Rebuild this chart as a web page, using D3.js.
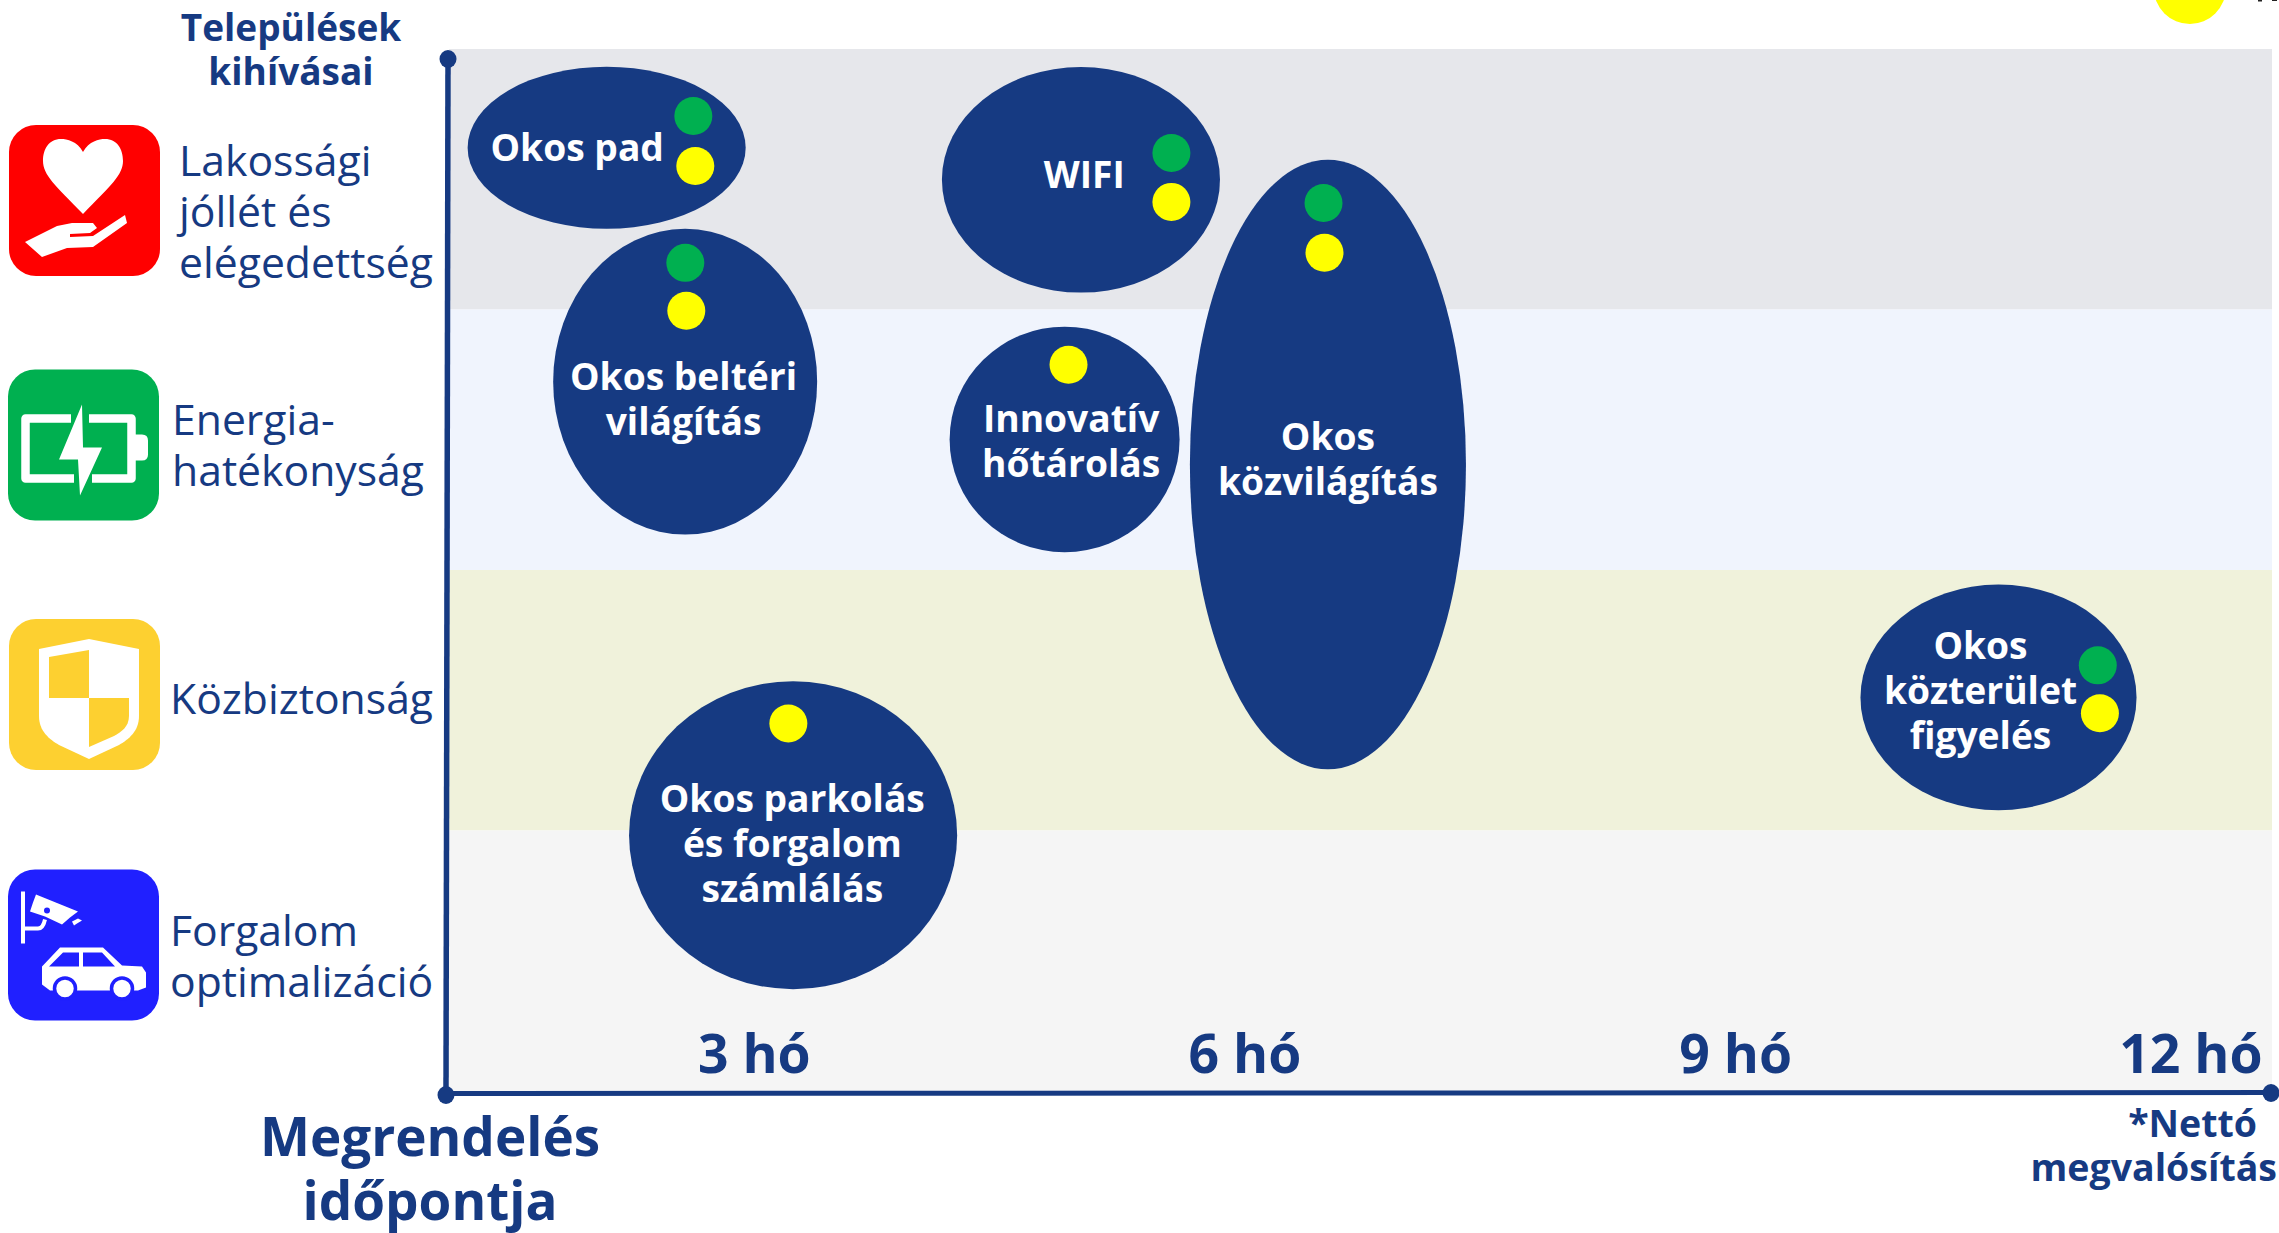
<!DOCTYPE html>
<html>
<head>
<meta charset="utf-8">
<script src="https://cdn.jsdelivr.net/npm/d3@7"></script>
<style>
    html, body { margin: 0; padding: 0; background: #fff; overflow: hidden; }
    svg { display: block; }
    text { font-family: "Open Sans", sans-serif; fill: #163a82; }
</style>
</head>
<body>
<div id="chart"></div>
<script>
// Rows of the chart
const challenges = ["Lakossági jóllét és elégedettség", "Energiahatékonyság", "Közbiztonság", "Forgalom optimalizáció"];
const challengeLines = [["Lakossági", "jóllét és", "elégedettség"], ["Energia-", "hatékonyság"], ["Közbiztonság"], ["Forgalom", "optimalizáció"]];
const tickMonths = [3, 6, 9, 12];

// Bubbles: centre and half sizes, in months and rows
const bubbleLines = [["Okos pad"], ["WIFI"], ["Okos beltéri", "világítás"], ["Innovatív", "hőtárolás"], ["Okos", "közvilágítás"], ["Okos parkolás", "és forgalom", "számlálás"], ["Okos", "közterület", "figyelés"]];
const bubbleMonth = [2.10, 5.00, 2.58, 4.90, 6.51, 3.24, 10.61];
const bubbleRow = [0.379, 0.502, 1.277, 1.499, 1.595, 3.018, 2.489];
const bubbleHalfMonths = [0.85, 0.85, 0.807, 0.703, 0.844, 1.003, 0.844];
const bubbleHalfRows = [0.311, 0.433, 0.587, 0.433, 1.17, 0.591, 0.433];
const labelMonth = [1.92, 5.02, 2.57, 4.94, 6.51, 3.235, 10.50];
const labelRow = [0.376, 0.479, 1.339, 1.50, 1.569, 3.045, 2.458];

// Traffic light dots
const dotMonth = [2.63, 2.642, 5.553, 5.553, 2.581, 2.587, 4.924, 6.483, 6.489, 3.211, 11.217, 11.23];
const dotRow = [0.257, 0.449, 0.399, 0.587, 0.821, 1.005, 1.212, 0.591, 0.782, 2.589, 2.366, 2.55];
const dotKind = ["g", "y", "g", "y", "g", "y", "y", "g", "y", "y", "g", "y"];

const width = 2279, height = 1233;
const navy = "#163a82";
const bandColors = ["#e6e7eb", "#f0f4fd", "#f0f2db", "#f5f5f5"];
const dotColors = { g: "#00b050", y: "#ffff00" };

const svg = d3.select("#chart").append("svg")
    .attr("width", width)
    .attr("height", height);

// Scales
const x = d3.scaleLinear().domain([1.13, 12.27]).range([448, 2270]);
const y = d3.scaleLinear().domain([0, 4]).range([49, 1091]);
const band = d3.scaleBand().domain(challenges).range([49, 1091]);

// Background bands
svg.selectAll(".band")
    .data(challenges)
    .join("rect")
    .attr("class", "band")
    .attr("x", 449)
    .attr("y", d => band(d))
    .attr("width", 1823)
    .attr("height", band.bandwidth())
    .attr("fill", (d, i) => bandColors[i]);

// Leftovers cut off by the top edge
svg.append("circle")
    .attr("cx", x(11.78))
    .attr("cy", y(-0.234))
    .attr("r", 36)
    .attr("fill", dotColors.y);
svg.append("path")
    .attr("d", "M2258,0h4v1.5h-4ZM2272,0h5v1h-5Z")
    .attr("fill", "#222");

// Axis lines
svg.append("path")
    .attr("d", "M448,59L446,1095")
    .attr("stroke", navy).attr("stroke-width", 5.5).attr("fill", "none");
svg.append("path")
    .attr("d", "M446,1093.5L2271,1092.5")
    .attr("stroke", navy).attr("stroke-width", 5).attr("fill", "none");
svg.selectAll(".end")
    .data([[448, 59], [446, 1095], [2271, 1093]])
    .join("ellipse")
    .attr("class", "end")
    .attr("cx", d => d[0])
    .attr("cy", d => d[1])
    .attr("rx", 8.5)
    .attr("ry", 9)
    .attr("fill", navy);

// Month labels
const xAxis = svg.append("g")
    .attr("transform", "translate(0,1073)")
    .call(d3.axisBottom(x).tickValues(tickMonths).tickSize(0).tickPadding(0).tickFormat(d => d + " hó"));
xAxis.select(".domain").remove();
xAxis.selectAll("text")
    .attr("y", 0).attr("dy", 0)
    .style("font-size", "53.5px")
    .style("font-weight", 700)
    .style("fill", navy);
xAxis.selectAll("text").filter(d => d === 12)
    .attr("text-anchor", "end")
    .attr("dx", 2262 - x(12));

// Bubbles
const bubbles = svg.selectAll(".bubble")
    .data(bubbleLines)
    .join("g")
    .attr("class", "bubble");

bubbles.append("ellipse")
    .attr("cx", (d, i) => x(bubbleMonth[i]))
    .attr("cy", (d, i) => y(bubbleRow[i]))
    .attr("rx", (d, i) => x(bubbleMonth[i] + bubbleHalfMonths[i]) - x(bubbleMonth[i]))
    .attr("ry", (d, i) => y(bubbleRow[i] + bubbleHalfRows[i]) - y(bubbleRow[i]))
    .attr("fill", navy);

bubbles.each(function(lines, i) {
    const lineHeight = 45;
    const top = y(labelRow[i]) - (lines.length - 1) * lineHeight / 2;
    lines.forEach((line, j) => {
        d3.select(this).append("text")
            .attr("x", x(labelMonth[i]))
            .attr("y", top + j * lineHeight + 14.5)
            .attr("text-anchor", "middle")
            .style("font-size", "37.2px")
            .style("font-weight", 700)
            .style("fill", "#fff")
            .text(line);
    });
});

svg.selectAll(".dot")
    .data(dotKind)
    .join("circle")
    .attr("class", "dot")
    .attr("cx", (d, i) => x(dotMonth[i]))
    .attr("cy", (d, i) => y(dotRow[i]))
    .attr("r", 19)
    .attr("fill", d => dotColors[d]);

// Text helper
function addLines(lines, px, baselines, size, weight, anchor) {
    lines.forEach((line, i) => {
        svg.append("text")
            .attr("x", px)
            .attr("y", baselines[i])
            .attr("text-anchor", anchor)
            .style("font-size", size + "px")
            .style("font-weight", weight)
            .text(line);
    });
}

addLines(["Települések", "kihívásai"], 291, [41, 85], 37, 700, "middle");
addLines(["Megrendelés", "időpontja"], 430, [1156, 1220], 53, 700, "middle");
addLines(["*Nettó"], 2257, [1137], 37.5, 700, "end");
addLines(["megvalósítás"], 2277, [1181], 37.5, 700, "end");

addLines(challengeLines[0], 179, [176, 227, 278], 42.7, 400, "start");
addLines(challengeLines[1], 172, [435, 486], 42.7, 400, "start");
addLines(challengeLines[2], 170, [714], 42.7, 400, "start");
addLines(challengeLines[3], 170, [946, 997], 42.7, 400, "start");

// Icons on the left
function icon(ox, oy, fill) {
    const g = svg.append("g").attr("transform", `translate(${ox},${oy})`);
    g.append("rect")
        .attr("width", 151).attr("height", 151)
        .attr("rx", 27).attr("fill", fill);
    return g;
}

const heart = icon(9, 125, "#ff0000");
heart.append("path").attr("fill", "#fff")
    .attr("d", "M74 27C68 16 58 14 52 14C40 14 34 24 34 36C34 50 46 60 74 89C102 60 114 50 114 36C114 24 108 14 96 14C90 14 80 16 74 27Z");
heart.append("path").attr("fill", "#fff")
    .attr("d", "M16 117L48 101L63 98L84 98L88 103L81 108L61 109L61 112L84 111L116 90L118 98L84 122L58 123L33 132Z");

const battery = icon(8, 369.5, "#00b050");
battery.append("path").attr("fill", "none").attr("stroke", "#fff").attr("stroke-width", 8.5).attr("stroke-linejoin", "round")
    .attr("d", "M63 49L17.5 49L17.5 109L66 109M81 49L123.5 49L123.5 109L84 109");
battery.append("path").attr("fill", "#fff").attr("d", "M127 65L134 65Q140 65 140 71L140 85Q140 91 134 91L127 91Z");
battery.append("path").attr("fill", "#fff").attr("d", "M74 35L51 90L70 90L72 126L94 78L75 78Z");

const shield = icon(9, 619, "#fdd030");
shield.append("path").attr("fill", "#fff")
    .attr("d", "M80 20L130 30L130 97C130 112 120 120 110 126L80 140L50 126C40 120 30 112 30 97L30 30Z");
shield.append("path").attr("fill", "#fdd030").attr("d", "M40 38L80 31L80 79L40 79Z");
shield.append("path").attr("fill", "#fdd030").attr("d", "M80 79L120 79L120 97C120 108 112 113 105 117L80 128Z");

const traffic = icon(8, 869.5, "#2020ff");
traffic.append("path").attr("fill", "none").attr("stroke", "#fff").attr("stroke-width", 4)
    .attr("d", "M15 22L15 74M15 59L30 59Q35 59 37 50");
traffic.append("path").attr("fill", "#fff").attr("d", "M28 25L70 42L62 48L54 55L37 47L22 42L25 33Z");
traffic.append("circle").attr("cx", 39).attr("cy", 41).attr("r", 3).attr("fill", "#2020ff");
traffic.append("path").attr("fill", "#fff").attr("d", "M64 52L70 49L74 51L69 54L66 56Z");
traffic.append("path").attr("fill", "#fff")
    .attr("d", "M34 97L52 78L95 78L114 96L134 97L138 103L138 118L130 121L42 121L34 115Z");
traffic.append("path").attr("fill", "#2020ff").attr("d", "M41 97L55 83L71 83L71 97ZM75 83L94 83L107 97L75 97Z");
traffic.selectAll(".wheel")
    .data([57, 114])
    .join("circle")
    .attr("class", "wheel")
    .attr("cx", d => d).attr("cy", 119).attr("r", 10.5)
    .attr("fill", "#fff").attr("stroke", "#2020ff").attr("stroke-width", 3.5);
</script>
</body>
</html>
